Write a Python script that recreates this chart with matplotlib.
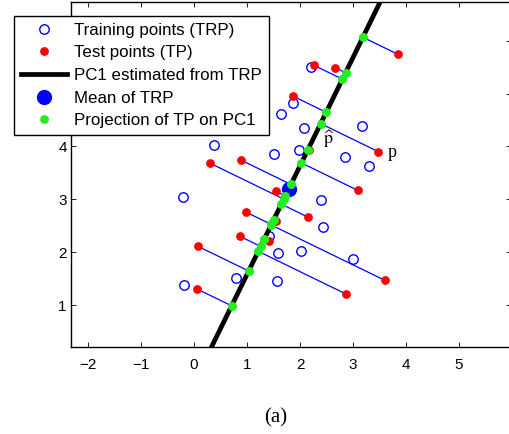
import numpy as np
import matplotlib
matplotlib.use("Agg")
import matplotlib.pyplot as plt
from matplotlib.lines import Line2D


# training points (TRP)
train_x = [2.21, 1.86, 1.65, 2.07, 3.16, 0.38, 1.51, 1.98, 2.84, 3.31,
           -0.20, 2.40, 2.43, 1.42, 1.58, 2.02, 3.00, 0.79, 1.56, -0.19]
train_y = [5.51, 4.82, 4.61, 4.35, 4.39, 4.02, 3.86, 3.94, 3.80, 3.63,
           3.05, 2.99, 2.47, 2.30, 1.99, 2.03, 1.88, 1.52, 1.45, 1.38]

# test points (TP)
test_x = [3.85, 2.27, 2.66, 1.87, 3.48, 2.17, 0.31, 0.89, 3.09, 1.55,
          2.16, 0.98, 1.55, 0.87, 1.42, 0.08, 3.60, 2.87, 0.05]
test_y = [5.74, 5.53, 5.49, 4.95, 3.90, 3.93, 3.68, 3.74, 3.17, 3.15,
          2.66, 2.76, 2.59, 2.30, 2.21, 2.11, 1.47, 1.21, 1.31]

x_ticks = [-2, -1, 0, 1, 2, 3, 4, 5]
y_ticks = [1, 2, 3, 4, 5, 6]

legend_labels = ["Training points (TRP)", "Test points (TP)",
                 "PC1 estimated from TRP", "Mean of TRP",
                 "Projection of TP on PC1"]


# PCA on the training points
trp = np.column_stack([train_x, train_y])
tp = np.column_stack([test_x, test_y])
mean = trp.mean(axis=0)
cov = np.cov((trp - mean).T)
vals, vecs = np.linalg.eigh(cov)
pc1 = vecs[:, np.argmax(vals)]
t = (tp - mean) @ pc1
proj = mean + np.outer(t, pc1)


plt.rcParams['font.family'] = ['Liberation Sans', 'DejaVu Sans']
plt.rcParams['mathtext.fontset'] = 'stix'

fig = plt.figure(figsize=(5.1, 4.34), dpi=100)
ax = fig.add_axes([71 / 510, 1 - 347 / 434, 440 / 510, 345 / 434])

ax.plot(trp[:, 0], trp[:, 1], "o", mfc="none", mec="#0000ff", ms=6.8, mew=1.0, zorder=2)
for i in range(len(tp)):
    ax.plot([tp[i, 0], proj[i, 0]], [tp[i, 1], proj[i, 1]], "-", color="#0000ff", lw=0.9, zorder=3)
ax.plot(tp[:, 0], tp[:, 1], "o", color="#ff0000", ms=6.3, mew=0, zorder=4)
ax.axline(mean, slope=pc1[1] / pc1[0], color="black", lw=3.4, zorder=5)
ax.plot(mean[0], mean[1], "o", color="#0000ff", ms=11, mew=0, zorder=6)
ax.plot(proj[:, 0], proj[:, 1], "o", color="#22ee22", ms=6.5, mew=0, zorder=7)

ax.text(2.55, 4.14, r"$\widehat{\mathrm{p}}$", fontsize=13, ha="center", va="center", zorder=8)
ax.text(3.74, 3.88, "p", fontsize=13, family="Liberation Serif", ha="center", va="center", zorder=8)

ax.set_xlim(-2.32, 5.98)
ax.set_ylim(0.21, 6.73)
ax.set_xticks(x_ticks)
ax.set_yticks(y_ticks)
ax.tick_params(direction="in", length=3.6, width=0.6, top=True, right=True, labelsize=11)
ax.tick_params(axis="x", pad=8)
ax.tick_params(axis="y", pad=3)
for s in ax.spines.values():
    s.set_linewidth(1.0)

handles = [
    Line2D([], [], ls="none", marker="o", mfc="none", mec="#0000ff", ms=6.8, mew=1.0),
    Line2D([], [], ls="none", marker="o", color="#ff0000", ms=6.3, mew=0),
    Line2D([], [], color="black", lw=3.4),
    Line2D([], [], ls="none", marker="o", color="#0000ff", ms=11, mew=0),
    Line2D([], [], ls="none", marker="o", color="#22ee22", ms=6.3, mew=0),
]
leg = ax.legend(handles, legend_labels, loc="upper left",
                bbox_to_anchor=(14 / 510, 1 - 16 / 434), bbox_transform=fig.transFigure,
                fontsize=12.2, fancybox=False, framealpha=1, edgecolor="black",
                borderaxespad=0, borderpad=0.4, labelspacing=0.45,
                handlelength=2.75, handletextpad=0.4)
leg.get_frame().set_linewidth(1.0)
leg.set_zorder(10)

fig.text(275.7 / 510, 1 - 418 / 434, "(a)", fontsize=15, family="Liberation Serif",
         ha="center", va="center")

fig.savefig("out.png", dpi=100)
